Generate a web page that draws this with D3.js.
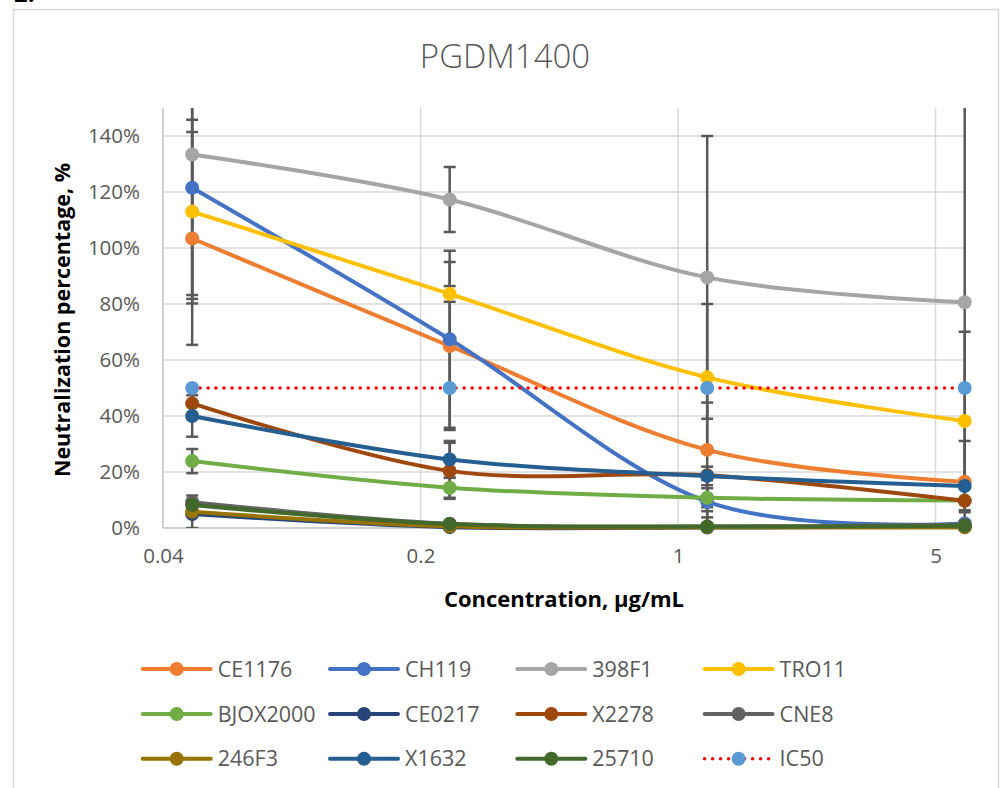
<!DOCTYPE html>
<html>
<head>
<meta charset="utf-8">
<script src="https://cdn.jsdelivr.net/npm/d3@7"></script>
<style>
  html, body { margin: 0; padding: 0; background: #fff; }
  svg { display: block; }
</style>
</head>
<body>
<svg id="chart" width="1001" height="788"></svg>
<script>
// ---------- DATA ----------
const chartTitle = "PGDM1400";
const xTitle = "Concentration, µg/mL";
const yTitle = "Neutralization percentage, %";
const concentrations = [0.048, 0.24, 1.2, 6];
const xTickValues = [0.04, 0.2, 1, 5];
const xTickLabels = ["0.04", "0.2", "1", "5"];
const yTickValues = [0, 20, 40, 60, 80, 100, 120, 140];

const seriesNames = ["CE1176", "CH119", "398F1", "TRO11", "BJOX2000", "CE0217",
                     "X2278", "CNE8", "246F3", "X1632", "25710", "IC50"];

const valCE1176   = [103.4, 65.0, 27.9, 16.5];
const valCH119    = [121.5, 67.4,  9.4,  1.6];
const val398F1    = [133.4, 117.3, 89.5, 80.6];
const valTRO11    = [113.0, 83.6, 53.8, 38.2];
const valBJOX2000 = [23.9, 14.4, 10.8,  9.8];
const valCE0217   = [5.0,  0.3,  0.2,  0.3];
const valX2278    = [44.5, 20.4, 18.8,  9.7];
const valCNE8     = [9.2,  1.5,  0.5,  1.2];
const val246F3    = [5.8,  0.6,  0.3,  0.3];
const valX1632    = [40.0, 24.5, 18.6, 15.0];
const val25710    = [8.2,  1.4,  0.5,  0.8];
const valIC50     = [50, 50, 50, 50];

const errCE1176   = [38.0, 30.0, 16.9, 14.6];
const errCH119    = [39.7, 31.6,  7.7,  0];
const err398F1    = [50.2, 11.6, 50.5, 75.0];
const errTRO11    = [32.8,  2.8, 26.2, 31.9];
const errBJOX2000 = [4.3,   3.6,  3.4,  0];
const errCE0217   = [0, 0, 0, 0];
const errX2278    = [0, 10.0, 0, 0];
const errCNE8     = [0, 0, 5.5, 0];
const err246F3    = [5.8, 0, 3.5, 0];
const errX1632    = [7.4, 6.6, 3.3, 0];
const err25710    = [0, 0, 0, 0];
const errIC50     = [0, 0, 0, 0];

const seriesValues = [valCE1176, valCH119, val398F1, valTRO11, valBJOX2000, valCE0217,
                      valX2278, valCNE8, val246F3, valX1632, val25710, valIC50];
const seriesErrors = [errCE1176, errCH119, err398F1, errTRO11, errBJOX2000, errCE0217,
                      errX2278, errCNE8, err246F3, errX1632, err25710, errIC50];

// ---------- STYLE ----------
const lineColors = ["#ED7D31", "#4472C4", "#A5A5A5", "#FFC000", "#70AD47", "#264478",
                    "#9E480E", "#636363", "#997300", "#255E91", "#43682B", "#FF0000"];
const markerColors = ["#ED7D31", "#4472C4", "#A5A5A5", "#FFC000", "#70AD47", "#264478",
                      "#9E480E", "#636363", "#997300", "#255E91", "#43682B", "#5B9BD5"];
const FONT = "'Open Sans', 'Noto Sans', sans-serif";
const TXT = "#595959";

const plot = { left: 163, right: 964.7, top: 108, bottom: 528 };

const svg = d3.select("#chart");

// frame + stray label (cut off at the top edge, as in the source image)
svg.append("text").attr("x", 14).attr("y", 2).attr("font-family", FONT)
   .attr("font-size", 24).attr("font-weight", "bold").attr("fill", "#000").text("2.");
svg.append("rect").attr("x", 13.5).attr("y", 9.5).attr("width", 985).attr("height", 820)
   .attr("fill", "#fff").attr("stroke", "#d9d9d9").attr("stroke-width", 1.5);

const x = d3.scaleLog().domain([0.04, 6]).range([plot.left, plot.right]);
const y = d3.scaleLinear().domain([0, 150]).range([plot.bottom, plot.top]);

// title
svg.append("text").attr("x", 505).attr("y", 68).attr("text-anchor", "middle")
   .attr("font-family", FONT).attr("font-weight", 300).attr("font-size", 33)
   .attr("fill", TXT).text(chartTitle);

// gridlines
const grid = svg.append("g");
grid.selectAll("line.h").data(yTickValues.filter(d => d > 0)).join("line")
    .attr("x1", plot.left).attr("x2", plot.right)
    .attr("y1", d => y(d)).attr("y2", d => y(d))
    .attr("stroke", "#d9d9d9").attr("stroke-width", 1.5);
grid.selectAll("line.v").data(xTickValues.filter(d => d > 0.04)).join("line")
    .attr("x1", d => x(d)).attr("x2", d => x(d))
    .attr("y1", plot.top).attr("y2", plot.bottom)
    .attr("stroke", "#d9d9d9").attr("stroke-width", 1.5);
// axis lines
grid.append("line").attr("x1", plot.left).attr("x2", plot.left)
    .attr("y1", plot.top).attr("y2", plot.bottom).attr("stroke", "#d0d0d0").attr("stroke-width", 2);
grid.append("line").attr("x1", plot.left).attr("x2", plot.right)
    .attr("y1", plot.bottom).attr("y2", plot.bottom).attr("stroke", "#d0d0d0").attr("stroke-width", 2);

// axes (labels only)
const yAxis = svg.append("g").attr("transform", `translate(${plot.left},0)`)
  .call(d3.axisLeft(y).tickValues(yTickValues).tickFormat(d => d + "%").tickSize(0).tickPadding(23));
const xAxis = svg.append("g").attr("transform", `translate(0,${plot.bottom})`)
  .call(d3.axisBottom(x).tickValues(xTickValues).tickFormat((d, i) => xTickLabels[i]).tickSize(0).tickPadding(20));
[yAxis, xAxis].forEach(a => {
  a.select(".domain").remove();
  a.selectAll("text").attr("font-family", FONT).attr("font-size", 20.5).attr("fill", TXT);
});

// axis titles
svg.append("text").attr("x", 564).attr("y", 607).attr("text-anchor", "middle")
   .attr("font-family", FONT).attr("font-weight", "bold").attr("font-size", 22)
   .attr("fill", "#000").text(xTitle);
svg.append("text").attr("transform", "translate(70,320) rotate(-90)").attr("text-anchor", "middle")
   .attr("font-family", FONT).attr("font-weight", "bold").attr("font-size", 21.5)
   .attr("fill", "#000").text(yTitle);

// clip
svg.append("clipPath").attr("id", "plotClip").append("rect")
   .attr("x", plot.left - 10).attr("y", plot.top).attr("width", plot.right - plot.left + 20)
   .attr("height", plot.bottom - plot.top);

// error bars
const eb = svg.append("g").attr("clip-path", "url(#plotClip)");
seriesValues.forEach((vals, si) => {
  vals.forEach((v, i) => {
    const e = seriesErrors[si][i];
    if (!e) return;
    const cx = x(concentrations[i]);
    eb.append("line").attr("x1", cx).attr("x2", cx).attr("y1", y(v + e)).attr("y2", y(v - e))
      .attr("stroke", "#595959").attr("stroke-width", 2.5);
    [v + e, v - e].forEach(t => {
      eb.append("line").attr("x1", cx - 6).attr("x2", cx + 6).attr("y1", y(t)).attr("y2", y(t))
        .attr("stroke", "#595959").attr("stroke-width", 2.5);
    });
  });
});

// series
const lineGen = d3.line().x(d => x(d[0])).y(d => y(d[1])).curve(d3.curveCardinal.tension(0));
seriesValues.forEach((vals, si) => {
  const g = svg.append("g");
  const pts = vals.map((v, i) => [concentrations[i], v]);
  const isIC = seriesNames[si] === "IC50";
  g.append("path").attr("d", lineGen(pts)).attr("fill", "none")
   .attr("stroke", lineColors[si]).attr("stroke-width", isIC ? 3.5 : 4)
   .attr("stroke-linecap", "round")
   .attr("stroke-dasharray", isIC ? "0 8" : null);
  g.selectAll("circle").data(pts).join("circle")
   .attr("cx", d => x(d[0])).attr("cy", d => y(d[1])).attr("r", 7)
   .attr("fill", markerColors[si]);
});

// legend
const legend = svg.append("g");
const rowsY = [669, 714, 758.7];
seriesNames.forEach((name, si) => {
  const col = si % 4, row = Math.floor(si / 4);
  const x0 = 141.7 + col * 187.3, yy = rowsY[row];
  const isIC = name === "IC50";
  legend.append("line").attr("x1", x0 + 1).attr("x2", x0 + 69).attr("y1", yy).attr("y2", yy)
    .attr("stroke", lineColors[si]).attr("stroke-width", isIC ? 3.5 : 4)
    .attr("stroke-linecap", "round").attr("stroke-dasharray", isIC ? "0 8" : null);
  legend.append("circle").attr("cx", x0 + 35).attr("cy", yy).attr("r", 7).attr("fill", markerColors[si]);
  legend.append("text").attr("x", x0 + 76).attr("y", yy).attr("dy", "0.35em")
    .attr("font-family", FONT).attr("font-size", 21.5).attr("fill", TXT).text(name);
});
</script>
</body>
</html>
